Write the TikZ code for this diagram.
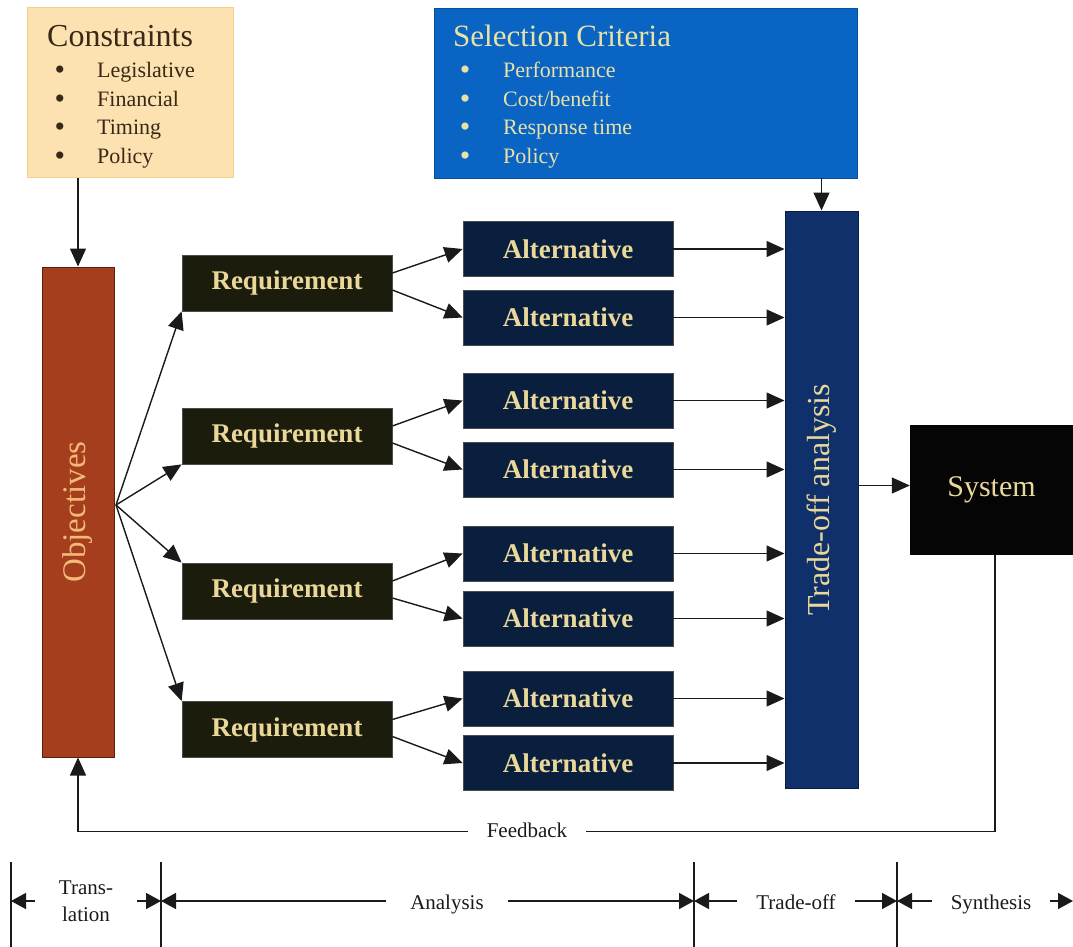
\documentclass[tikz,border=0pt]{standalone}
\usepackage{fontspec}
\setmainfont{Liberation Serif}
\usetikzlibrary{arrows.meta,calc}

\definecolor{consfill}{HTML}{FCE2B0}
\definecolor{consline}{HTML}{F0D28C}
\definecolor{constext}{HTML}{3A2816}
\definecolor{selfill}{HTML}{0A64C4}
\definecolor{seltext}{HTML}{E8E2A6}
\definecolor{objfill}{HTML}{A43E1C}
\definecolor{objline}{HTML}{5A1E0C}
\definecolor{objtext}{HTML}{F4B878}
\definecolor{reqfill}{HTML}{1C1C0C}
\definecolor{altfill}{HTML}{0A1E3E}
\definecolor{boxtext}{HTML}{EAD89A}
\definecolor{tradefill}{HTML}{10306C}
\definecolor{sysfill}{HTML}{050505}
\definecolor{ink}{HTML}{1A1A1A}

\begin{document}
\begin{tikzpicture}[x=1pt,y=-1pt,
  panel/.style={rectangle, inner sep=0pt, anchor=center},
  reqbox/.style={panel, fill=reqfill, draw=black!70, line width=0.8pt,
    minimum width=210pt, minimum height=56pt, text=boxtext,
    font=\fontsize{27}{30}\selectfont\bfseries},
  altbox/.style={panel, fill=altfill, draw=black!70, line width=0.8pt,
    minimum width=210pt, minimum height=55pt, text=boxtext,
    font=\fontsize{27}{30}\selectfont\bfseries},
  listtext/.style={anchor=base west, inner sep=0pt, font=\fontsize{22}{26}\selectfont},
  bullet/.style={anchor=base, inner sep=0pt, font=\fontsize{30}{30}\selectfont},
  arr/.style={draw=ink, line width=1.4pt, -{Triangle[length=18pt,width=16pt]}},
  tarr/.style={draw=ink, line width=1.5pt, -{Triangle[length=15pt,width=16pt]}},
  tick/.style={draw=ink, line width=1.6pt},
  phase/.style={inner xsep=21pt, inner ysep=2pt, align=center, text=ink,
    font=\fontsize{21}{27}\selectfont},
  phaseone/.style={phase, text height=18pt, text depth=2pt}
]
\useasboundingbox (0,0) rectangle (1073,947);

% --- constraints panel ---
\node[panel, fill=consfill, draw=consline, line width=1pt,
      minimum width=206pt, minimum height=169pt] (cons) at (130,92.5) {};
\node[anchor=base west, inner sep=0pt, text=constext,
      font=\fontsize{32}{36}\selectfont] (constitle) at (47,47) {Constraints};
\foreach \t/\yy [count=\i] in {Legislative/78, Financial/107, Timing/135, Policy/163}{
  \node[listtext, text=constext] (ci\i) at (97,\yy) {\t};
  \node[bullet, text=constext] (cb\i) at (60,\yy+2) {•};
}

% --- selection criteria panel ---
\node[panel, fill=selfill, draw=selfill!80!black, line width=0.8pt,
      minimum width=423pt, minimum height=170pt] (sel) at (645.5,93) {};
\node[anchor=base west, inner sep=0pt, text=seltext,
      font=\fontsize{31}{36}\selectfont] (seltitle) at (453,47) {Selection Criteria};
\foreach \t/\yy [count=\i] in {Performance/78, {Cost/benefit}/107, Response time/135, Policy/163}{
  \node[listtext, text=seltext] (si\i) at (503,\yy) {\t};
  \node[bullet, text=seltext] (sb\i) at (465,\yy+2) {•};
}

% --- objectives column ---
\node[panel, fill=objfill, draw=objline, line width=1pt,
      minimum width=72pt, minimum height=490pt] (obj) at (78,512) {};
\node[rotate=90, text=objtext, font=\fontsize{33}{36}\selectfont] (objlabel) at (78,512) {Objectives};

% --- requirements ---
\node[reqbox] (req1) at (287,283) {Requirement};
\node[reqbox] (req2) at (287,436) {Requirement};
\node[reqbox] (req3) at (287,591) {Requirement};
\node[reqbox] (req4) at (287,729.5) {Requirement};

% --- alternatives ---
\foreach \yy [count=\i] in {249, 317.5, 400.5, 469.5, 553.5, 618.5, 698.5, 763}{
  \node[altbox] (alt\i) at (568,\yy) {Alternative};
}

% --- trade-off column ---
\node[panel, fill=tradefill, draw=tradefill!60!black, line width=1pt,
      minimum width=73pt, minimum height=577pt] (trade) at (821.5,499.5) {};
\node[rotate=90, text=boxtext, font=\fontsize{32}{36}\selectfont] (tradelabel) at (821.5,500) {Trade-off analysis};

% --- system ---
\node[panel, fill=sysfill, minimum width=163pt, minimum height=130pt,
      text=boxtext, font=\fontsize{30}{34}\selectfont] (sys) at (991.5,490) {System};

% --- connectors ---
\draw[arr] (obj.north |- cons.south) -- (obj.north);
\draw[arr] (trade.north |- sel.south) -- (trade.north);

\coordinate (fan) at (116,505);
\draw[arr] (fan) -- (req1.south west);
\draw[arr] (fan) -- (req2.south west);
\draw[arr] (fan) -- (req3.north west);
\draw[arr] (fan) -- (req4.north west);

\foreach \r/\a/\b in {1/1/2, 2/3/4, 3/5/6, 4/7/8}{
  \draw[arr] ([yshift=10pt]req\r.east) -- (alt\a.west);
  \draw[arr] ([yshift=-7pt]req\r.east) -- (alt\b.west);
}
\foreach \i in {1,...,8}{
  \draw[arr] (alt\i.east) -- (alt\i.east -| trade.west);
}
\draw[arr] ([yshift=14pt]trade.east) -- ([yshift=14pt]trade.east -| sys.west);

% feedback loop
\draw[arr] ([xshift=3.5pt]sys.south) -- ++(0,276) -| (obj.south);
\node[fill=white, inner xsep=19pt, inner ysep=3pt, text=ink,
      font=\fontsize{21}{24}\selectfont] (fb) at (527,830) {Feedback};

% --- phase timeline ---
\coordinate (v0) at (11,862);
\coordinate (v1) at (161,862);
\coordinate (v2) at (694,862);
\coordinate (v3) at (897,862);
\coordinate (vend) at (1073,901);
\foreach \v in {v0,v1,v2,v3}{
  \draw[tick] (\v) -- ++(0,85);
}
\node[phase, inner xsep=24pt] (ph1) at (86,901) {Trans-\\lation};
\node[phaseone, inner xsep=24pt] (ph2) at (447,901) {Analysis};
\node[phaseone, inner xsep=19pt] (ph3) at (796,901) {Trade-off};
\node[phaseone, inner xsep=19pt] (ph4) at (991,901) {Synthesis};

\draw[tarr] (ph1.west) -- (ph1.west -| v0);
\draw[tarr] (ph1.east) -- (ph1.east -| v1);
\draw[tarr] (ph2.west) -- (ph2.west -| v1);
\draw[tarr] (ph2.east) -- (ph2.east -| v2);
\draw[tarr] (ph3.west) -- (ph3.west -| v2);
\draw[tarr] (ph3.east) -- (ph3.east -| v3);
\draw[tarr] (ph4.west) -- (ph4.west -| v3);
\draw[tarr] (ph4.east) -- (vend);
\end{tikzpicture}
\end{document}
